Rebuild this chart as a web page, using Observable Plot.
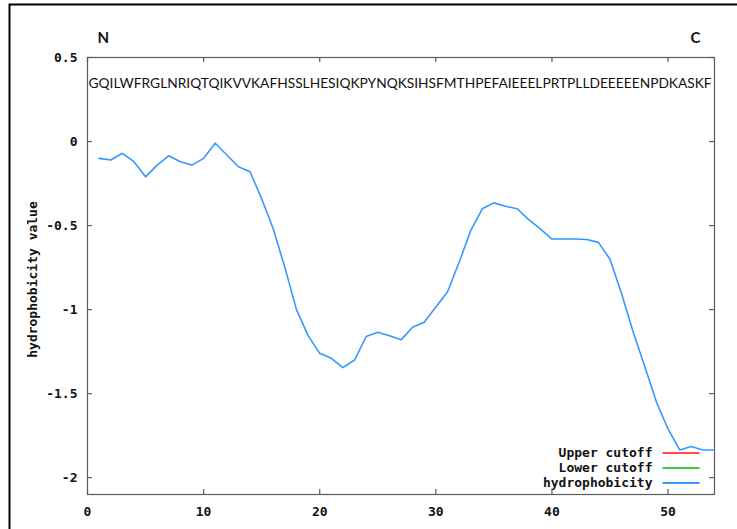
<!DOCTYPE html>
<html>
<head>
<meta charset="utf-8">
<script src="https://cdn.jsdelivr.net/npm/d3@7"></script>
<script src="https://cdn.jsdelivr.net/npm/@observablehq/plot@0.6"></script>
<style>
  html, body { margin: 0; padding: 0; background: #fff; }
  #chart svg { display: block; }
</style>
</head>
<body>
<div id="chart"></div>
<script>
// ---- data ----
const sequence = "GQILWFRGLNRIQTQIKVVKAFHSSLHESIQKPYNQKSIHSFMTHPEFAIEEELPRTPLLDEEEEENPDKASKF";
const positions = d3.range(1, 55);
const hydrophobicity = [
  -0.10, -0.11, -0.07, -0.12, -0.21, -0.14, -0.085, -0.12, -0.14, -0.10,
  -0.01, -0.08, -0.15, -0.18, -0.34, -0.52, -0.75, -1.00, -1.155, -1.26,
  -1.29, -1.345, -1.30, -1.16, -1.135, -1.155, -1.18, -1.105, -1.075, -0.985,
  -0.895, -0.72, -0.53, -0.40, -0.365, -0.385, -0.40, -0.465, -0.52, -0.58,
  -0.58, -0.58, -0.583, -0.60, -0.70, -0.905, -1.135, -1.34, -1.55, -1.71,
  -1.835, -1.815, -1.835, -1.835
];
const xTicks = [0, 10, 20, 30, 40, 50];
const yTicks = [0.5, 0, -0.5, -1, -1.5, -2];
const legendLabels = ["Upper cutoff", "Lower cutoff", "hydrophobicity"];
const legendColors = ["#ff4d4d", "#3ccc3c", "#3399ff"];
const endLabels = ["N", "C"];
const yLabel = "hydrophobicity value";

const data = positions.map((p, i) => ({pos: p, value: hydrophobicity[i]}));

const W = 737, H = 529;
const mL = 87, mT = 57, mR = 23, mB = 35;
const pw = W - mL - mR, ph = H - mT - mB;
const tick = 5;
const mono = "'DejaVu Sans Mono', monospace";
const sans = "Lato, 'Open Sans', sans-serif";
const axisGray = "#5a5a5a";
const seqWidth = 623;

const legendMarks = [];
legendLabels.forEach((lab, i) => {
  const rowY = 452.5 + i * 15; // row center in px
  legendMarks.push(Plot.text([lab], {
    frameAnchor: "bottom-right", dx: -(mL + pw - 652), dy: -(mT + ph - rowY),
    text: d => d, textAnchor: "end", lineAnchor: "middle",
    fontFamily: mono, fontWeight: "bold", fontSize: 13, fill: "#111"
  }));
  legendMarks.push(Plot.frame({
    insetLeft: 662 - mL, insetRight: mL + pw - 699,
    insetTop: rowY - 1 - mT, insetBottom: mT + ph - (rowY + 1),
    fill: legendColors[i], stroke: null
  }));
});

const chart = Plot.plot({
  width: W, height: H,
  marginLeft: mL, marginTop: mT, marginRight: mR, marginBottom: mB,
  style: {fontFamily: mono, fontSize: "13px", fontWeight: "bold", color: "#111", background: "#fff"},
  x: {domain: [0, 54]},
  y: {domain: [-2.1, 0.5]},
  marks: [
    // outer border (extends beyond the image on right and bottom)
    Plot.frame({insetLeft: -(mL - 9), insetTop: -(mT - 4), insetRight: -40, insetBottom: -60, stroke: "#000", strokeWidth: 2}),
    // plot frame
    Plot.frame({stroke: axisGray, strokeWidth: 1.2}),
    // inward ticks
    Plot.tickX(xTicks, {x: d => d, insetTop: ph - tick, stroke: axisGray, strokeWidth: 1.2}),
    Plot.tickX(xTicks, {x: d => d, insetBottom: ph - tick, stroke: axisGray, strokeWidth: 1.2}),
    Plot.tickY(yTicks, {y: d => d, insetRight: pw - tick, stroke: axisGray, strokeWidth: 1.2}),
    Plot.tickY(yTicks, {y: d => d, insetLeft: pw - tick, stroke: axisGray, strokeWidth: 1.2}),
    // tick labels
    Plot.axisX({ticks: xTicks, tickSize: 0, tickPadding: 12, tickFormat: d => String(d), label: null}),
    Plot.axisY({ticks: yTicks, tickSize: 0, tickPadding: 10, tickFormat: d => String(d), label: null}),
    // y axis title
    Plot.text([yLabel], {frameAnchor: "left", dx: -(mL - 32), dy: 279 - (mT + ph / 2), rotate: -90,
      textAnchor: "middle", lineAnchor: "middle",
      text: d => d, fontFamily: mono, fontWeight: "bold", fontSize: 13, fill: "#111"}),
    // N / C end labels
    Plot.text([endLabels[0]], {frameAnchor: "top-left", dx: 10, dy: -19, text: d => d,
      textAnchor: "start", lineAnchor: "middle",
      fontFamily: sans, fontWeight: "bold", fontSize: 15, fill: "#111"}),
    Plot.text([endLabels[1]], {frameAnchor: "top-right", dx: -14, dy: -19, text: d => d,
      textAnchor: "end", lineAnchor: "middle",
      fontFamily: sans, fontWeight: "bold", fontSize: 15, fill: "#111"}),
    // sequence
    Plot.text([sequence], {frameAnchor: "top-left", dx: 1, dy: 26, text: d => d, textAnchor: "start",
      lineAnchor: "middle", fontFamily: sans, fontWeight: "normal", fontSize: 14,
      fill: "#111", className: "seq"}),
    // hydrophobicity line
    Plot.line(data, {x: "pos", y: "value", stroke: "#3399ff", strokeWidth: 1.6}),
    ...legendMarks
  ]
});

document.getElementById("chart").appendChild(chart);

// fit the sequence text to the frame width via font size
const seqNode = chart.querySelector(".seq text");
if (seqNode) {
  const natural = seqNode.getComputedTextLength();
  if (natural > 0) {
    const fs = 14 * seqWidth / natural;
    seqNode.setAttribute("font-size", fs.toFixed(2));
    seqNode.style.fontSize = fs.toFixed(2) + "px";
  }
}
</script>
</body>
</html>
